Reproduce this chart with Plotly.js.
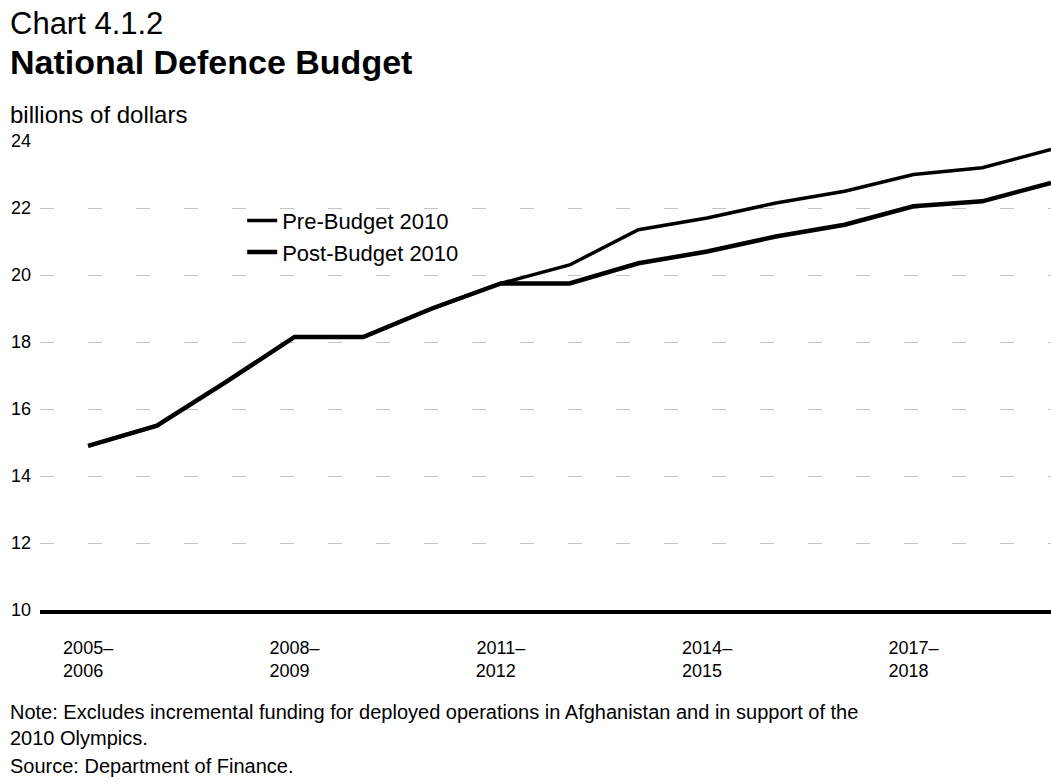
<!DOCTYPE html>
<html>
<head>
<meta charset="utf-8">
<script src="https://cdn.plot.ly/plotly-3.0.1.min.js"></script>
<style>
html, body { margin: 0; padding: 0; background: #ffffff; }
#chart { width: 1051px; height: 782px; }
</style>
</head>
<body>
<div id="chart"></div>
<script>
// ---- data (billions of dollars) ----
const fiscalYears = ['2005–2006','2006–2007','2007–2008','2008–2009','2009–2010',
  '2010–2011','2011–2012','2012–2013','2013–2014','2014–2015','2015–2016',
  '2016–2017','2017–2018','2018–2019','2019–2020'];
const preBudget2010  = [14.9, 15.5, 16.8, 18.15, 18.15, 19.0, 19.75, 20.3, 21.35, 21.7, 22.15, 22.5, 23.0, 23.2, 23.75];
const postBudget2010 = [14.9, 15.5, 16.8, 18.15, 18.15, 19.0, 19.75, 19.75, 20.35, 20.7, 21.15, 21.5, 22.05, 22.2, 22.75];
const tickYears  = ['2005–2006','2008–2009','2011–2012','2014–2015','2017–2018'];
const tickLabels = ['2005–<br>2006\u2007','2008–<br>2009\u2007','2011–<br>2012\u2007','2014–<br>2015\u2007','2017–<br>2018\u2007'];
const yTicks = [10, 12, 14, 16, 18, 20, 22, 24];

const FONT = 'Liberation Sans, Arial, Helvetica, sans-serif';

const traces = [
  { x: fiscalYears, y: preBudget2010, type: 'scatter', mode: 'lines', name: 'Pre-Budget 2010',
    line: { color: '#000000', width: 3.5 } },
  { x: fiscalYears, y: postBudget2010, type: 'scatter', mode: 'lines', name: 'Post-Budget 2010',
    line: { color: '#000000', width: 4.5 } }
];

const layout = {
  width: 1051, height: 782,
  margin: { l: 40, r: 0, t: 141, b: 172 },
  paper_bgcolor: '#ffffff', plot_bgcolor: '#ffffff',
  font: { family: FONT, color: '#000000', size: 18 },
  showlegend: true,
  legend: { x: 0.200, xanchor: 'left', y: 0.875, yanchor: 'top',
            font: { family: FONT, size: 22, color: '#000' }, bgcolor: 'rgba(0,0,0,0)' },
  title: { text: '<b>National Defence Budget</b>', x: 10/1051, xanchor: 'left', xref: 'container',
           y: 1 - 62/782, yanchor: 'middle', yref: 'container',
           font: { family: FONT, size: 34, color: '#000' } },
  xaxis: {
    type: 'category', categoryorder: 'array', categoryarray: fiscalYears,
    range: [-0.70, 14.0],
    tickmode: 'array', tickvals: tickYears, ticktext: tickLabels,
    ticks: '', showgrid: false, zeroline: false,
    showline: true, linecolor: '#000000', linewidth: 4,
    tickfont: { family: FONT, size: 18, color: '#000' },
    ticklabelstandoff: 18
  },
  yaxis: {
    range: [10, 24], tickmode: 'array', tickvals: yTicks,
    ticks: '', showline: false, zeroline: false,
    showgrid: true, gridcolor: '#c4c4c4', gridwidth: 1, griddash: '14px,34px',
    tickfont: { family: FONT, size: 18, color: '#000' },
    ticklabelstandoff: 8
  },
  annotations: [
    { text: 'Chart 4.1.2', xref: 'paper', yref: 'paper', x: -40/1011, y: 1 + (141-23)/469,
      xanchor: 'left', yanchor: 'middle', showarrow: false, xshift: 8,
      font: { family: FONT, size: 31, color: '#000' } },
    { text: 'billions of dollars', xref: 'paper', yref: 'paper', x: -40/1011, y: 1 + (141-114)/469,
      xanchor: 'left', yanchor: 'middle', showarrow: false, xshift: 8,
      font: { family: FONT, size: 24, color: '#000' } },
    { text: 'Note: Excludes incremental funding for deployed operations in Afghanistan and in support of the<br>2010 Olympics.',
      xref: 'paper', yref: 'paper', x: -40/1011, y: (610-699)/469,
      xanchor: 'left', yanchor: 'top', align: 'left', showarrow: false, xshift: 8,
      font: { family: FONT, size: 20, color: '#000' } },
    { text: 'Source: Department of Finance.',
      xref: 'paper', yref: 'paper', x: -40/1011, y: (610-766)/469,
      xanchor: 'left', yanchor: 'middle', align: 'left', showarrow: false, xshift: 8,
      font: { family: FONT, size: 20, color: '#000' } }
  ]
};

Plotly.newPlot('chart', traces, layout, { displayModeBar: false, staticPlot: true });
</script>
</body>
</html>
